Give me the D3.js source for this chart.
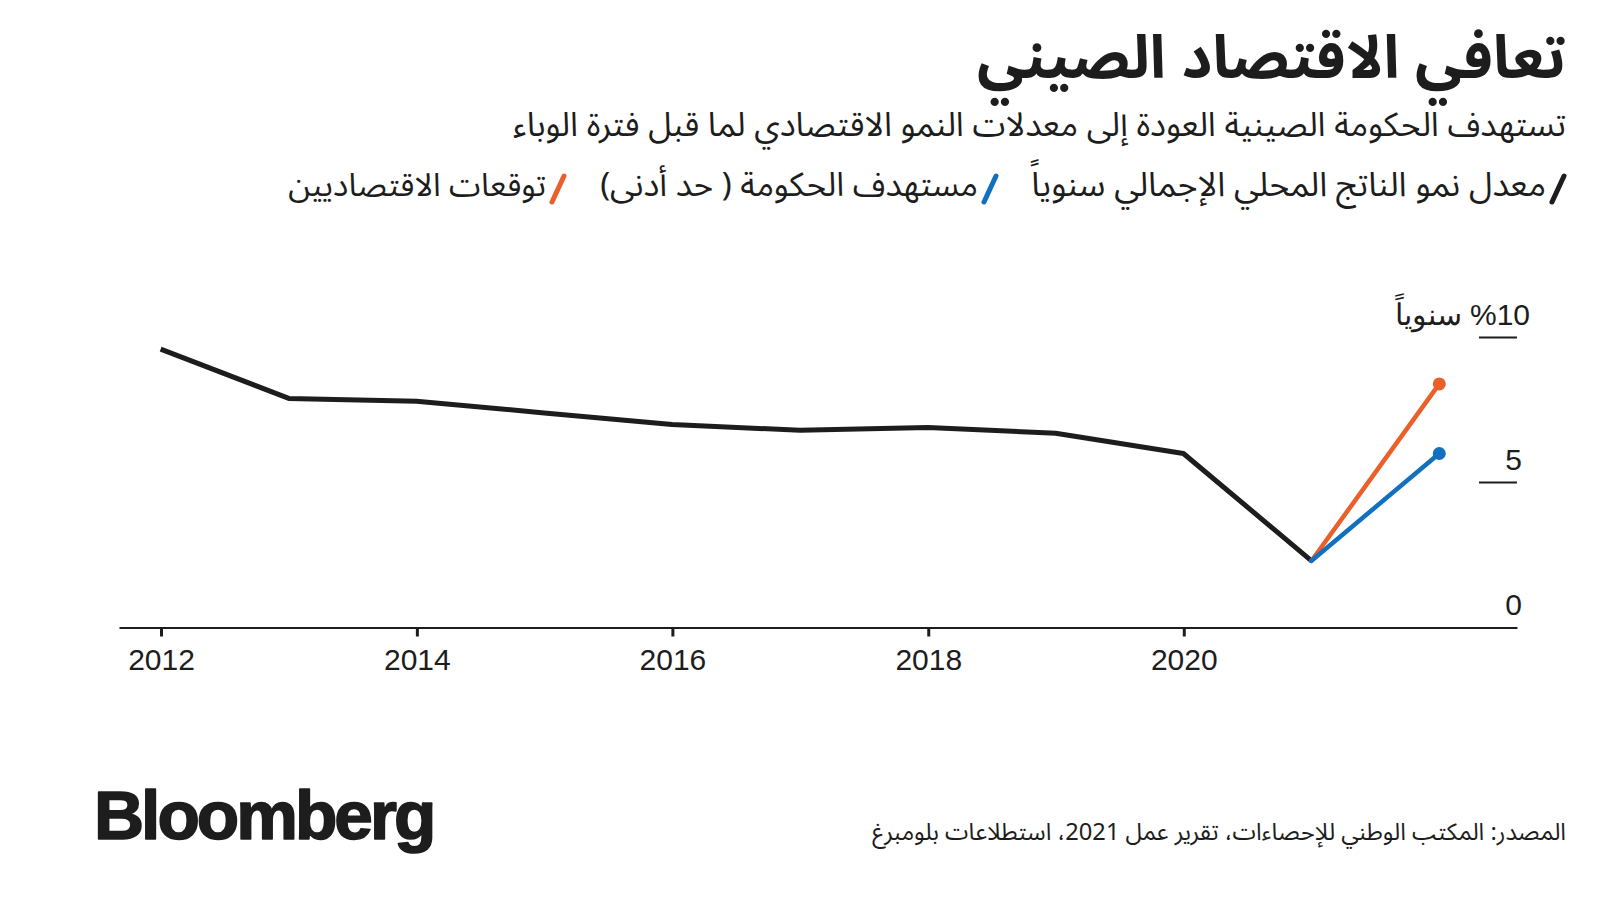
<!DOCTYPE html>
<html><head><meta charset="utf-8">
<script src="https://cdn.jsdelivr.net/npm/d3@7"></script>
<style>body{margin:0;background:#fff} svg{display:block}</style>
</head><body><svg id="c" width="1600" height="900"></svg>
<script>
// ---- data ----
const gdpYears = [2011, 2012, 2013, 2014, 2015, 2016, 2017, 2018, 2019, 2020];
const gdpValues = [9.6, 7.9, 7.8, 7.4, 7.0, 6.8, 6.9, 6.7, 6.0, 2.3];
const targetYears = [2020, 2021];
const govTarget = [2.3, 6.0];
const economistForecast = [2.3, 8.4];
const xTickYears = [2012, 2014, 2016, 2018, 2020];
const yTicks = [0, 5, 10];
const yTickLabels = ["0", "5", "%10 سنوياً"];
const titleText = "تعافي الاقتصاد الصيني";
const subtitleText = "تستهدف الحكومة الصينية العودة إلى معدلات النمو الاقتصادي لما قبل فترة الوباء";
const legendLabels = ["معدل نمو الناتج المحلي الإجمالي سنوياً", "مستهدف الحكومة ( حد أدنى)", "توقعات الاقتصاديين"];
const sourceText = "المصدر: المكتب الوطني للإحصاءات، تقرير عمل 2021، استطلاعات بلومبرغ";

const BLACK = "#1d1d1d", BLUE = "#1170bf", ORANGE = "#ea5f2a";
const AR = "'Noto Sans Arabic','DejaVu Sans',sans-serif";
const LAT = "'Liberation Sans',Arial,sans-serif";

const svg = d3.select("#c");
const yearEnd = y => new Date(y, 11, 31);

const x = d3.scaleTime()
  .domain([new Date(2011, 8, 3), new Date(2022, 7, 10)])
  .range([119, 1517]);
const y = d3.scaleLinear().domain([0, 10]).range([627.5, 337.5]);

function fit(sel, target) {
  const n = sel.node();
  const fs = parseFloat(sel.attr("font-size"));
  const w = n.getComputedTextLength();
  sel.attr("font-size", fs * target / w);
}

// ---- titles ----
const title = svg.append("text").attr("x", 1566).attr("y", 78)
  .attr("direction", "rtl").attr("text-anchor", "start")
  .attr("font-family", AR).attr("font-weight", "bold").attr("font-size", 50)
  .attr("fill", BLACK).text(titleText);
fit(title, 589);

const sub = svg.append("text").attr("x", 1566).attr("y", 136)
  .attr("direction", "rtl").attr("text-anchor", "start")
  .attr("font-family", AR).attr("font-size", 28)
  .attr("fill", BLACK).text(subtitleText);
fit(sub, 1053);

// ---- legend ----
const legendColors = [BLACK, BLUE, ORANGE];
const legendRight = [1566, 998, 566];
const legendTextW = [515, 378, 258];
legendLabels.forEach((lab, i) => {
  const r = legendRight[i];
  svg.append("line").attr("x1", r - 2).attr("y1", 176).attr("x2", r - 14).attr("y2", 202)
    .attr("stroke", legendColors[i]).attr("stroke-width", 5).attr("stroke-linecap", "round");
  const t = svg.append("text").attr("x", r - 20).attr("y", 196)
    .attr("direction", "rtl").attr("text-anchor", "start")
    .attr("font-family", AR).attr("font-size", 28).attr("fill", BLACK).text(lab);
  fit(t, legendTextW[i]);
});

// ---- axes ----
const xAxis = d3.axisBottom(x)
  .tickValues(xTickYears.map(yy => new Date(yy, 0, 1)))
  .tickFormat(d3.timeFormat("%Y"))
  .tickSize(9).tickSizeOuter(0).tickPadding(12);
const gx = svg.append("g").attr("transform", `translate(0,${y(0)})`).call(xAxis);
gx.select(".domain").attr("stroke", BLACK).attr("stroke-width", 2.2);
gx.selectAll(".tick line").attr("stroke", BLACK).attr("stroke-width", 3);
gx.selectAll(".tick text").attr("font-family", LAT).attr("font-size", 30).attr("fill", BLACK);

// y ticks (right side)
const gy = svg.append("g");
yTicks.forEach((v, i) => {
  if (v !== 0) {
    gy.append("line").attr("x1", 1479).attr("x2", 1517).attr("y1", y(v)).attr("y2", y(v))
      .attr("stroke", BLACK).attr("stroke-width", 2);
  }
  const isUnit = i === yTicks.length - 1;
  const t = gy.append("text").attr("x", isUnit ? 1530 : 1522).attr("y", y(v) - 13)
    .attr("font-family", LAT).attr("font-size", 30).attr("fill", BLACK).text(yTickLabels[i]);
  if (isUnit) t.attr("direction", "rtl").attr("text-anchor", "start");
  else t.attr("text-anchor", "end");
});

// ---- lines ----
const line = d3.line().x(d => x(yearEnd(d[0]))).y(d => y(d[1]));
const gdp = gdpYears.map((yy, i) => [yy, gdpValues[i]]);
const eco = targetYears.map((yy, i) => [yy, economistForecast[i]]);
const gov = targetYears.map((yy, i) => [yy, govTarget[i]]);

svg.append("path").datum(gdp).attr("d", line).attr("fill", "none")
  .attr("stroke", BLACK).attr("stroke-width", 5).attr("stroke-linejoin", "round");
svg.append("path").datum(eco).attr("d", line).attr("fill", "none")
  .attr("stroke", ORANGE).attr("stroke-width", 4.5).attr("stroke-linecap", "round");
svg.append("path").datum(gov).attr("d", line).attr("fill", "none")
  .attr("stroke", BLUE).attr("stroke-width", 4.5).attr("stroke-linecap", "round");
svg.append("circle").attr("cx", x(yearEnd(eco[1][0]))).attr("cy", y(eco[1][1])).attr("r", 6.5).attr("fill", ORANGE);
svg.append("circle").attr("cx", x(yearEnd(gov[1][0]))).attr("cy", y(gov[1][1])).attr("r", 6.5).attr("fill", BLUE);

// ---- footer ----
const src = svg.append("text").attr("x", 1566).attr("y", 840)
  .attr("direction", "rtl").attr("text-anchor", "start")
  .attr("font-family", AR).attr("font-size", 22).attr("fill", BLACK).text(sourceText);
fit(src, 694);

const logo = svg.append("text").attr("x", 94).attr("y", 839)
  .attr("font-family", LAT).attr("font-weight", "bold").attr("font-size", 66)
  .attr("letter-spacing", -3).attr("fill", BLACK)
  .attr("stroke", BLACK).attr("stroke-width", 1.6).attr("stroke-linejoin", "round")
  .text("Bloomberg");
fit(logo, 338);
</script></body></html>
